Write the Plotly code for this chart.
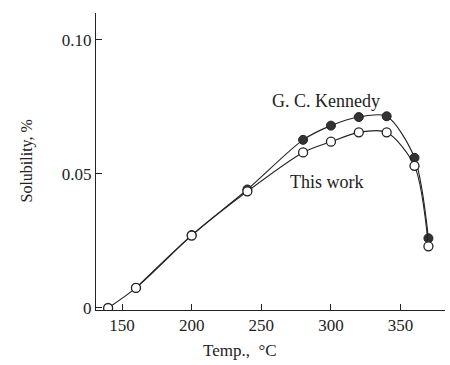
import plotly.graph_objects as go

# Solubility (%) against temperature (deg C)
temp_this = [140, 160, 200, 240, 280, 300, 320, 340, 360, 370]
sol_this = [0.0, 0.0075, 0.027, 0.0435, 0.058, 0.062, 0.0655, 0.0655, 0.053, 0.023]

temp_kennedy = [160, 200, 240, 280, 300, 320, 340, 360, 370]
sol_kennedy = [0.0075, 0.0272, 0.0442, 0.0627, 0.068, 0.0712, 0.0715, 0.056, 0.026]

x_ticks = [150, 200, 250, 300, 350]
y_ticks = [0, 0.05, 0.10]
y_tick_text = ["0", "0.05", "0.10"]

FONT = "Liberation Serif"
INK = "#222222"
W, H = 450, 365
M = dict(l=96, r=5, t=13, b=55)

fig = go.Figure()

fig.add_trace(go.Scatter(
    x=temp_kennedy, y=sol_kennedy, mode="lines+markers",
    line=dict(color=INK, width=1.1, shape="spline", smoothing=0.8),
    marker=dict(size=9, color="#333333", line=dict(color=INK, width=1)),
    showlegend=False,
))
fig.add_trace(go.Scatter(
    x=temp_this, y=sol_this, mode="lines+markers",
    line=dict(color=INK, width=1.1, shape="spline", smoothing=0.8),
    marker=dict(size=9, color="white", line=dict(color=INK, width=1.3)),
    showlegend=False,
))

fig.add_annotation(x=296.5, y=0.0772, text="G. C. Kennedy", showarrow=False,
                   font=dict(family=FONT, size=18, color=INK))
fig.add_annotation(x=297.5, y=0.0470, text="This work", showarrow=False,
                   font=dict(family=FONT, size=18, color=INK))

# axis titles, placed in paper pixels
pw = W - M["l"] - M["r"]
ph = H - M["t"] - M["b"]
fig.add_annotation(
    xref="paper", yref="paper", xanchor="center", yanchor="middle",
    x=(240 - M["l"]) / pw, y=(H - M["b"] - 350) / ph,
    text="Temp.,  °C", showarrow=False,
    font=dict(family=FONT, size=17, color=INK),
)
fig.add_annotation(
    xref="paper", yref="paper", xanchor="center", yanchor="middle",
    x=(26 - M["l"]) / pw, y=0.5, textangle=-90,
    text="Solubility, %", showarrow=False,
    font=dict(family=FONT, size=16, color=INK),
)

fig.update_layout(
    width=W, height=H,
    margin=M,
    paper_bgcolor="white", plot_bgcolor="white",
    font=dict(family=FONT, size=17, color=INK),
    xaxis=dict(
        range=[131.3, 381.9], tickvals=x_ticks, ticks="inside", ticklen=6,
        tickcolor=INK, showline=True, linecolor=INK, linewidth=1,
        showgrid=False, zeroline=False,
    ),
    yaxis=dict(
        range=[-0.00075, 0.110], tickvals=y_ticks, ticktext=y_tick_text,
        ticks="inside", ticklen=6, tickcolor=INK, showline=True,
        linecolor=INK, linewidth=1, showgrid=False, zeroline=False,
    ),
)

fig.write_html("out.html")
